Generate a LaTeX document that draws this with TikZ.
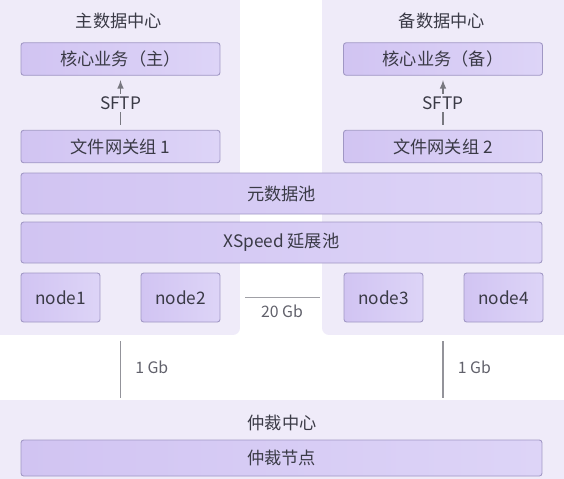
\documentclass[tikz,border=0pt]{standalone}
\usepackage{fontspec}
\setmainfont{Noto Sans CJK SC}
\definecolor{panel}{RGB}{239,235,249}
\definecolor{boxl}{RGB}{209,196,242}
\definecolor{boxr}{RGB}{221,212,247}
\definecolor{edge}{RGB}{160,151,196}
\definecolor{ink}{RGB}{58,58,70}
\definecolor{wire}{RGB}{120,120,128}
\begin{document}
\begin{tikzpicture}[x=0.02cm,y=-0.02cm]

  \useasboundingbox (0,0) rectangle (564,478);
  \node[anchor=center,inner sep=0mm] (X) at (0,0) {};

  % node styles
  \tikzstyle{Panel}=[
  shape=rectangle,rounded corners=4pt,
  fill=panel,inner sep=0mm]

  \tikzstyle{Box}=[
  shape=rectangle,rounded corners=1.5pt,
  draw=edge,line width=0.5pt,
  left color=boxl,right color=boxr,
  text=ink,font=\fontsize{9.8}{11}\selectfont,
  inner sep=0mm]

  \tikzstyle{Title}=[text=ink,font=\fontsize{9.8}{11}\selectfont]
  \tikzstyle{Label}=[text=ink!80,font=\fontsize{9}{10}\selectfont,inner sep=1pt]

  % data centres
  \draw (X) node[Panel,minimum width=5cm,minimum height=6.9cm] (DCA) at +(115,162.5) {};
  \draw (X) node[Panel,minimum width=5.04cm,minimum height=6.9cm] (DCB) at +(448,162.5) {};
  \draw (X) node[Panel,minimum width=11.68cm,minimum height=1.76cm] (ARB) at +(282,444) {};

  \draw (X) node[Title] (TA) at +(119,21) {主数据中心};
  \draw (X) node[Title] (TB) at +(442,21) {备数据中心};
  \draw (X) node[Title] (TC) at +(282,423) {仲裁中心};

  \draw (X) node[Box,minimum width=3.98cm,minimum height=0.65cm] (CBA) at +(120.5,59) {核心业务（主）};
  \draw (X) node[Box,minimum width=3.98cm,minimum height=0.65cm] (FGA) at +(120.5,146.5) {文件网关组 1};
  \draw (X) node[Box,minimum width=3.98cm,minimum height=0.65cm] (CBB) at +(443,59) {核心业务（备）};
  \draw (X) node[Box,minimum width=3.98cm,minimum height=0.65cm] (FGB) at +(443,146.5) {文件网关组 2};

  \draw (X) node[Box,minimum width=10.42cm,minimum height=0.82cm] (META) at +(281.5,193.5) {元数据池};
  \draw (X) node[Box,minimum width=10.42cm,minimum height=0.82cm] (XS) at +(281.5,242.5) {XSpeed 延展池};

  \draw (X) node[Box,minimum width=1.58cm,minimum height=0.98cm] (N1) at +(60.5,297.5) {node1};
  \draw (X) node[Box,minimum width=1.58cm,minimum height=0.98cm] (N2) at +(180.5,297.5) {node2};
  \draw (X) node[Box,minimum width=1.58cm,minimum height=0.98cm] (N3) at +(383.5,297.5) {node3};
  \draw (X) node[Box,minimum width=1.58cm,minimum height=0.98cm] (N4) at +(503.5,297.5) {node4};

  \draw (X) node[Box,minimum width=10.42cm,minimum height=0.72cm] (ARBN) at +(281.5,458) {仲裁节点};

  % links
  \draw[wire,line width=0.7pt,-latex,shorten <=3pt,shorten >=2.5pt] (FGA) -- node[Title,fill=panel,inner sep=1.5pt] (SA) {SFTP} (CBA);
  \draw[wire,line width=0.7pt,-latex,shorten <=3pt,shorten >=2.5pt] (FGB) -- node[Title,fill=panel,inner sep=1.5pt] (SB) {SFTP} (CBB);

  \draw[wire!70,line width=0.6pt,shorten <=0.5cm,shorten >=0.48cm] (N2.east) -- (N3.west)
    node[Label,midway,below=3pt] (L20) {20 Gb};

  \draw[wire!80,line width=0.6pt,shorten <=0.12cm,shorten >=0.04cm] (DCA.south -| FGA) -- (ARB.north -| FGA)
    node[Label,midway,anchor=west,xshift=0.25cm] (L1A) {1 Gb};
  \draw[wire!80,line width=0.6pt,shorten <=0.12cm,shorten >=0.04cm] (DCB.south -| FGB) -- (ARB.north -| FGB)
    node[Label,midway,anchor=west,xshift=0.25cm] (L1B) {1 Gb};

\end{tikzpicture}
\end{document}
